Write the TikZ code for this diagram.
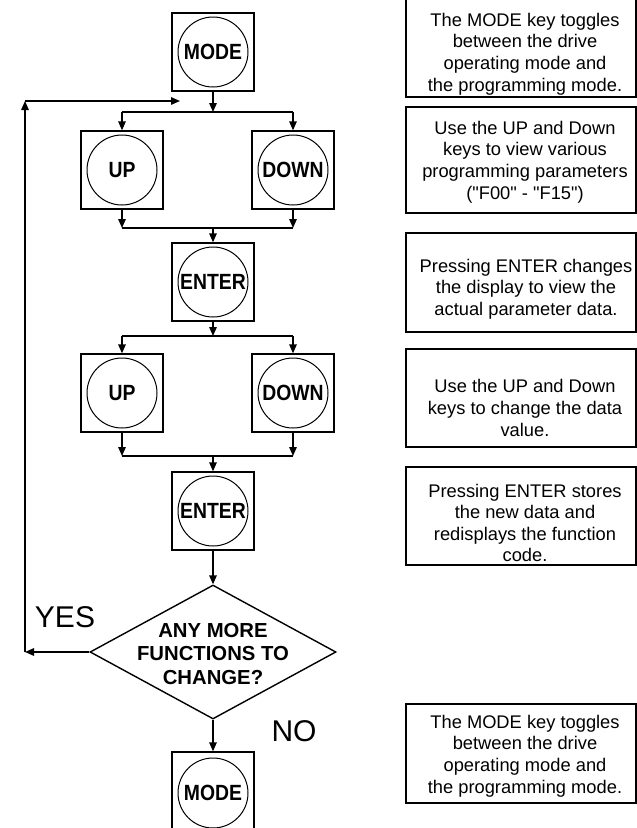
\documentclass[tikz,border=0pt]{standalone}
\usepackage{fontspec}
\setmainfont{Liberation Sans}[Ligatures=TeXOff]
\newfontfamily\keyfont{Liberation Sans}[FakeStretch=0.88]
\usetikzlibrary{arrows.meta,shapes.geometric}
\begin{document}
\begin{tikzpicture}[x=1pt,y=-1pt,
  keybox/.style={draw,line width=1.4pt,minimum width=82pt,minimum height=78pt,inner sep=0pt},
  keycirc/.style={draw,circle,line width=1pt,minimum size=70pt,inner sep=0pt,font=\keyfont\fontsize{22}{24}\selectfont\bfseries},
  arr/.style={line width=1.4pt,-{Triangle[length=9pt,width=7.5pt]}},
  ln/.style={line width=1.4pt},
  notebox/.style={draw,line width=1.4pt,minimum width=230pt,inner sep=0pt},
  notetxt/.style={align=center,font=\fontsize{18.3}{21.6}\selectfont,inner sep=0pt},
  big/.style={font=\fontsize{30}{32}\selectfont,inner sep=0pt},
  dia/.style={draw,diamond,line width=1.4pt,minimum width=246pt,minimum height=134pt,inner sep=0pt},
  qtxt/.style={align=center,font=\fontsize{20.3}{23.5}\selectfont\bfseries,inner sep=0pt}]
\useasboundingbox (0,0) rectangle (637,828);
\clip (0,0) rectangle (637,828);

% key boxes
\node[keybox] (mode1) at (213,52) {};
\node[keycirc] (mode1c) at (mode1) {MODE};
\node[keybox] (up1) at (122,170) {};
\node[keycirc] (up1c) at (up1) {UP};
\node[keybox] (down1) at (293,170) {};
\node[keycirc] (down1c) at (down1) {DOWN};
\node[keybox] (enter1) at (213,282) {};
\node[keycirc] (enter1c) at (enter1) {ENTER};
\node[keybox] (up2) at (122,393) {};
\node[keycirc] (up2c) at (up2) {UP};
\node[keybox] (down2) at (293,393) {};
\node[keycirc] (down2c) at (down2) {DOWN};
\node[keybox] (enter2) at (213,511) {};
\node[keycirc] (enter2c) at (enter2) {ENTER};
\node[dia] (q) at (213,652) {};
\node[qtxt] (qt) at (213,654) {ANY MORE\\FUNCTIONS TO\\CHANGE?};
\node[keybox] (mode2) at (213,791) {};
\node[keycirc] (mode2c) at (213,793) {MODE};

\node[big] (yes) at (65,617) {YES};
\node[big] (no) at (294,731) {NO};

% connector coordinates
\coordinate (b1) at (213,112); \coordinate (b1l) at (122,112); \coordinate (b1r) at (293,112);
\coordinate (c1) at (213,228); \coordinate (c1l) at (122,228); \coordinate (c1r) at (293,228);
\coordinate (b2) at (213,336); \coordinate (b2l) at (122,336); \coordinate (b2r) at (293,336);
\coordinate (c2) at (213,456); \coordinate (c2l) at (122,456); \coordinate (c2r) at (293,456);
\coordinate (fl) at (25,652); \coordinate (ft) at (25,101); \coordinate (fr) at (180,101);

\draw[arr] (mode1.south) -- (b1);
\draw[ln] (b1l) -- (b1r);
\draw[arr] (b1l) -- (up1.north);
\draw[arr] (b1r) -- (down1.north);
\draw[arr] (up1.south) -- (c1l);
\draw[arr] (down1.south) -- (c1r);
\draw[ln] (c1l) -- (c1r);
\draw[arr] (c1) -- (enter1.north);

\draw[arr] (enter1.south) -- (b2);
\draw[ln] (b2l) -- (b2r);
\draw[arr] (b2l) -- (up2.north);
\draw[arr] (b2r) -- (down2.north);
\draw[arr] (up2.south) -- (c2l);
\draw[arr] (down2.south) -- (c2r);
\draw[ln] (c2l) -- (c2r);
\draw[arr] (c2) -- (enter2.north);

\draw[arr] (enter2.south) -- (q.north);
\draw[arr] (q.south) -- (mode2.north);
\draw[arr] (q.west) -- (fl);
\draw[arr] (fl) -- (ft);
\draw[arr] (ft) -- (fr);

% note boxes
\node[notebox,minimum height=117pt] (nb1) at (521,38.5) {};
\node[notetxt] (nt1) at (525,54) {The MODE key toggles\\between the drive\\operating mode and\\the programming mode.};
\node[notebox,minimum height=106pt] (nb2) at (521,160) {};
\node[notetxt] (nt2) at (525,162) {Use the UP and Down\\keys to view various\\programming parameters\\("F00" - "F15")};
\node[notebox,minimum height=99pt] (nb3) at (521,282.5) {};
\node[notetxt] (nt3) at (526,289) {Pressing ENTER changes\\the display to view the\\actual parameter data.};
\node[notebox,minimum height=98pt] (nb4) at (521,398) {};
\node[notetxt] (nt4) at (525,408) {Use the UP and Down\\keys to change the data\\value.};
\node[notebox,minimum height=98pt] (nb5) at (521,516) {};
\node[notetxt] (nt5) at (525,523) {Pressing ENTER stores\\the new data and\\redisplays the function\\code.};
\node[notebox,minimum height=99pt] (nb6) at (521,753.5) {};
\node[notetxt] (nt6) at (525,756) {The MODE key toggles\\between the drive\\operating mode and\\the programming mode.};
\end{tikzpicture}
\end{document}
